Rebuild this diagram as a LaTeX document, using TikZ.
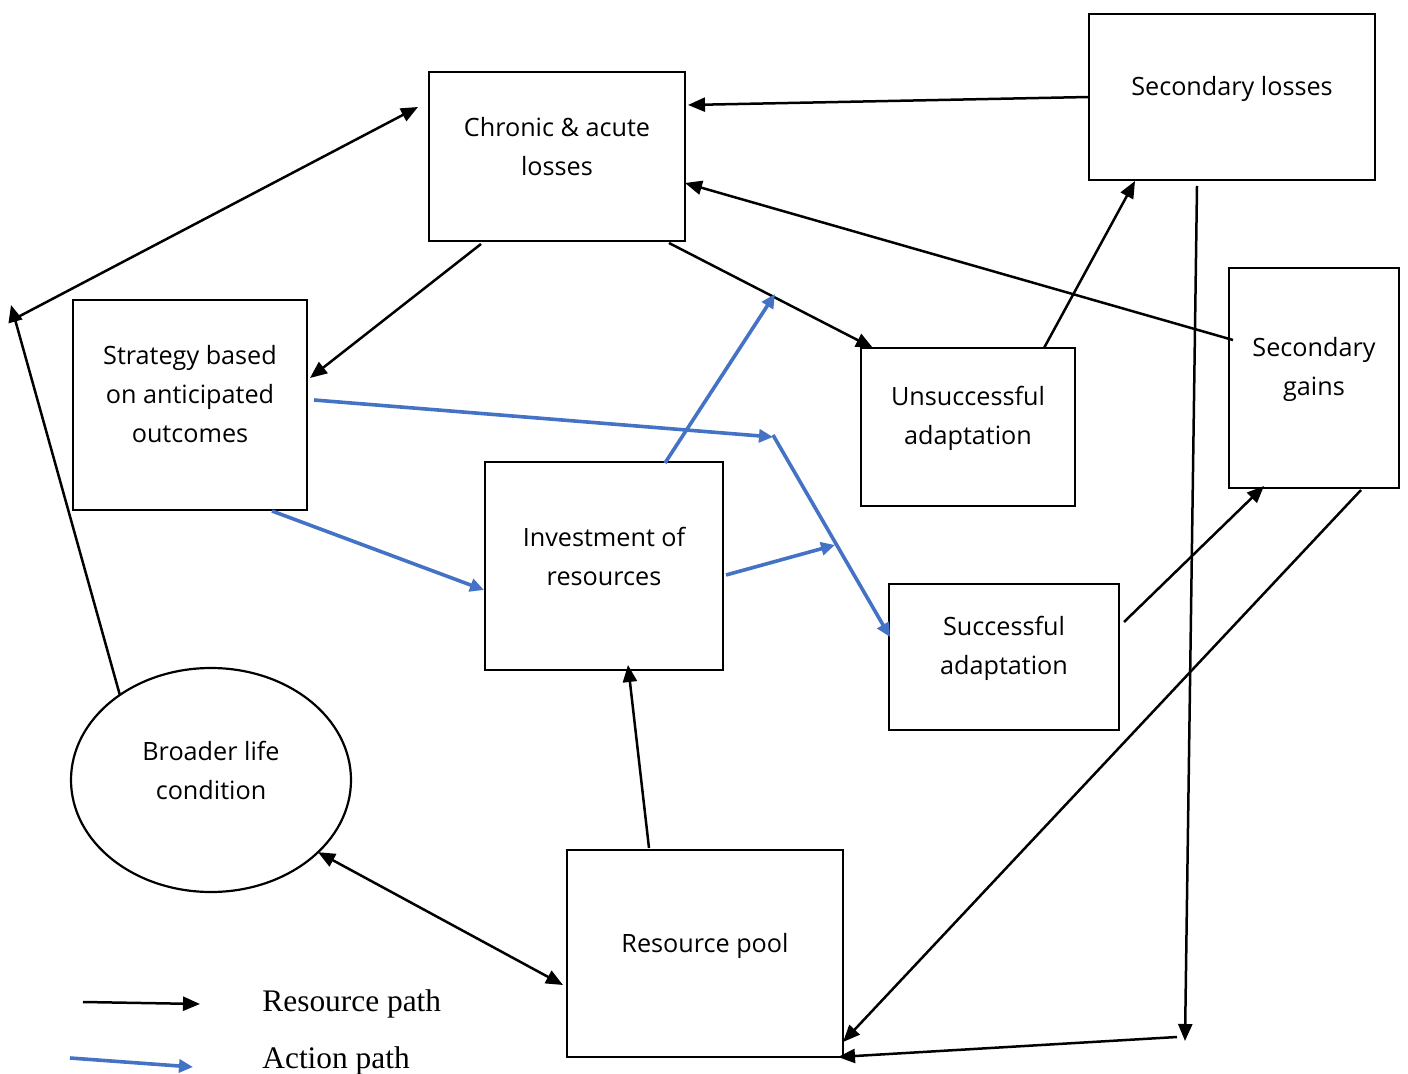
\documentclass[tikz,border=0pt]{standalone}
\usepackage{fontspec}
\setmainfont{Open Sans}
\newfontfamily\legendfont{Liberation Serif}
\usetikzlibrary{arrows.meta,shapes.geometric,calc}
\definecolor{actblue}{HTML}{4472C4}
\tikzset{
  box/.style={draw=black,line width=1.1pt,rectangle,inner sep=0pt,outer sep=0pt},
  oval/.style={draw=black,line width=1.1pt,ellipse,inner sep=0pt,outer sep=0pt,minimum width=140pt,minimum height=112pt},
  txt/.style={align=center,inner sep=0pt,font=\fontsize{12.6}{19.5}\selectfont},
  legtxt/.style={anchor=west,inner sep=0pt,font=\legendfont\fontsize{15.7}{18}\selectfont},
  respath/.style={draw=black,line width=1.25pt,-{Triangle[length=8.5pt,width=7pt]}},
  resboth/.style={draw=black,line width=1.25pt,{Triangle[length=8.5pt,width=7pt]}-{Triangle[length=8.5pt,width=7pt]}},
  actpath/.style={draw=actblue,line width=1.8pt,-{Triangle[length=7pt,width=6.5pt]}},
}
\begin{document}
\begin{tikzpicture}[x=0.5pt,y=-0.5pt]
\useasboundingbox (0,0) rectangle (1408,1074);

% boxes
\node[box,minimum width=128pt,minimum height=84.5pt] (chronic) at (557,156.5) {};
\node[txt] (chronic-t) at (557,147) {Chronic \& acute\\losses};
\node[box,minimum width=143pt,minimum height=83pt] (secloss) at (1232,97) {};
\node[txt] (secloss-t) at (1232,89) {Secondary losses};
\node[box,minimum width=117pt,minimum height=105pt] (strategy) at (190,405) {};
\node[txt] (strategy-t) at (190,394) {Strategy based\\on anticipated\\outcomes};
\node[box,minimum width=107pt,minimum height=79pt] (unsucc) at (968,427) {};
\node[txt] (unsucc-t) at (968,418) {Unsuccessful\\adaptation};
\node[box,minimum width=85pt,minimum height=110pt] (secgains) at (1314,378) {};
\node[txt] (secgains-t) at (1314,369) {Secondary\\gains};
\node[box,minimum width=119pt,minimum height=104pt] (invest) at (604,566) {};
\node[txt] (invest-t) at (604,556) {Investment of\\resources};
\node[box,minimum width=115pt,minimum height=73pt] (succ) at (1004,657) {};
\node[txt] (succ-t) at (1004,648) {Successful\\adaptation};
\node[oval] (broader) at (211,780) {};
\node[txt] (broader-t) at (211,770) {Broader life\\condition};
\node[box,minimum width=138pt,minimum height=103.5pt] (respool) at (705,953.5) {};
\node[txt] (respool-t) at (705,946) {Resource pool};

% free-end coordinates
\coordinate (corner) at (11,305);
\coordinate (downend) at (1185,1041);
\coordinate (bottomstart) at (1177,1037);
\coordinate (bend) at (773,437);
\coordinate (upend) at (775,294);
\coordinate (rightend) at (835,545);

% resource paths (black)
\draw[respath] (secloss.west) -- ($(chronic.north east)+(3,33)$);
\draw[respath] ($(secgains.north west)+(4,72)$) -- ($(chronic.north east)+(0,111)$);
\draw[respath] ($(chronic.south west)+(52,3)$) -- ($(strategy.north east)+(3,78)$);
\draw[respath] ($(chronic.south east)+(-16,2)$) -- ($(unsucc.north west)+(12,0)$);
\draw[respath] ($(unsucc.north east)+(-31,0)$) -- ($(secloss.south west)+(46,1)$);
\draw[respath] (broader.137) -- (corner);
\draw[respath] ($(corner)+(7,12)$) -- ($(chronic.north west)+(-11,35)$);
\draw[respath] ($(respool.north west)+(82,-2)$) -- ($(invest.south west)+(143,-5)$);
\draw[resboth] (broader.-34) -- ($(respool.north west)+(-4,135)$);
\draw[respath] ($(secloss.south west)+(108,6)$) -- (downend);
\draw[respath] (bottomstart) -- ($(respool.south east)+(-5,0)$);
\draw[respath] ($(secgains.south east)+(-38,2)$) -- ($(respool.south east)+(0,-15)$);
\draw[respath] ($(succ.north east)+(5,38)$) -- ($(secgains.south west)+(35,-2)$);

% action paths (blue)
\draw[actpath] ($(strategy.south west)+(199,1)$) -- ($(invest.north west)+(-1,128)$);
\draw[actpath] ($(strategy.north east)+(7,100)$) -- (bend);
\draw[actpath] ($(bend)+(0,-2)$) -- ($(succ.north west)+(1,53)$);
\draw[actpath] ($(invest.north west)+(180,1)$) -- (upend);
\draw[actpath] ($(invest.north east)+(3,113)$) -- (rightend);

% legend
\coordinate (lr1) at (83,1002);
\coordinate (lr2) at (200,1004);
\coordinate (la1) at (70,1058);
\coordinate (la2) at (193,1067);
\draw[respath] (lr1) -- (lr2);
\draw[actpath] (la1) -- (la2);
\node[legtxt] (leg-res) at (262,1004) {Resource path};
\node[legtxt] (leg-act) at (262,1061) {Action path};
\end{tikzpicture}
\end{document}
